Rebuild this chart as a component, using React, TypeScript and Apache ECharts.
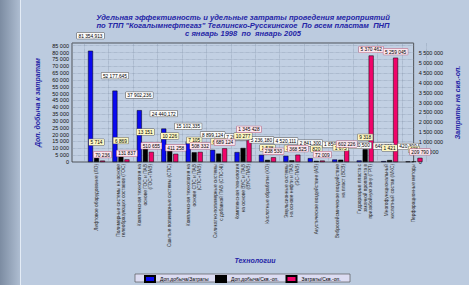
import React, { useEffect, useRef } from 'react';
import * as echarts from 'echarts';

const FONT = '"Liberation Sans", Arial, sans-serif';

const categories = [
  'Лифтовое оборудование (ЛО)',
  'Полимерные системы на основе\nгелеобразующих составов (ГОС)',
  'Комплексная технология на\nоснове ГОС и ПАВ\n(ГОС+ПАВ)',
  'Сшитые полимерные системы (СПС)',
  'Комплексная технология на\nоснове СПС и ПАВ\n(СПС+ПАВ)',
  'Силикатно-полимерные системы\nс добавкой ПАВ (СПС-Ж)',
  'Комплексная технология\nна основе ВУС и ПАВ\n(ВУС+ПАВ)',
  'Кислотные обработки (КО)',
  'Эмульсионные системы\nна основе нефти и ПАВ\n(ЭС-ПАВ)',
  'Акустическое воздействие (АВ)',
  'Вибросейсмическое воздействие\nна пласт (ВСВ)',
  'Гидроразрыв пласта с\nзакачкой проппанта в\nпризабойную зону (ГРП)',
  'Многофункциональный\nкислотный состав (МКС)',
  'Перфорационные методы',
];

const seriesNames = ['Доп.добыча/Затраты', 'Доп.добыча/Скв.-оп.', 'Затраты/Скв.-оп.'];

const blueValues = [81354.913, 52177.645, 37902.236, 24440.172, 15102.335, 8899.124, 7269.575, 5236.18, 4520.111, 2841.3, 1850.2, 1120.5, 640.2, 420.3];
const blackValues = [5714, 6869, 13151, 10226, 7105, 6167, 10277, 1538, 1236, 820, 1675, 9318, 1421, 428];
const pinkValues = [70236, 131837, 510655, 411258, 508332, 689124, 1345428, 238530, 368525, 72009, 602226, 5370462, 5259045, 209790];

const leftMax = 87000;
const leftStep = 5000;
const rightMax = 6000000;
const rightStep = 500000;

const titleLines = [
  'Удельная эффективность и удельные затраты проведения мероприятий',
  'по ТПП "Когалымнефтегаз" Тевлинско-Русскинское  По всем пластам  ПНП',
  'с январь 1998  по  январь 2005',
];
const leftAxisName = 'Доп. добыча к затратам';
const rightAxisName = 'Затраты на скв.-оп.';
const xAxisName = 'Технологии';

const group = (n: number) => String(Math.round(n)).replace(/\B(?=(\d{3})+(?!\d))/g, ' ');
const fmtDec = (v: number) => {
  const [i, d] = v.toFixed(3).split('.');
  return group(Number(i)) + ',' + d;
};

const GRID_LINE = { color: '#8796ab', type: 'dotted' as const, width: 0.6 };

export default function App() {
  const ref = useRef<HTMLDivElement>(null);
  useEffect(() => {
    const chart = echarts.init(ref.current!, null, { renderer: 'svg' });
    const labelBase = {
      show: true,
      position: 'top' as const,
      fontSize: 4.8,
      fontFamily: FONT,
      color: '#000',
      borderWidth: 0.5,
      padding: [1, 1.5, 0, 1.5],
    };
    const legendBase = {
      top: 274,
      itemWidth: 10,
      itemHeight: 6,
      icon: 'rect',
      padding: [1, 0],
      textStyle: { fontSize: 5, fontFamily: FONT, color: '#000' },
      selectedMode: false,
    };
    const checkbox = (x: number) => ({
      type: 'group',
      z: 20,
      children: [
        { type: 'rect', shape: { x, y: 275.5, width: 4, height: 4 }, style: { fill: '#fff', stroke: '#555', lineWidth: 0.5 } },
        { type: 'polyline', shape: { points: [[x + 0.8, 277.5], [x + 1.7, 278.6], [x + 3.3, 276.3]] }, style: { stroke: '#000', lineWidth: 0.6, fill: null } },
      ],
    });
    chart.setOption({
      animation: false,
      backgroundColor: '#bccbdf',
      textStyle: { fontFamily: FONT },
      graphic: [
        {
          type: 'rect', z: -10,
          shape: { x: 0, y: 0, width: 20, height: 285 },
          style: { fill: new echarts.graphic.LinearGradient(0, 0, 1, 0, [
            { offset: 0, color: '#7c8ca2' }, { offset: 1, color: '#aebdd1' }]) },
        },
        { type: 'line', z: -9, shape: { x1: 20.5, y1: 0, x2: 20.5, y2: 285 }, style: { stroke: '#e4ecf6', lineWidth: 1 } },
        {
          type: 'text', x: 243, y: 13,
          style: {
            text: titleLines.join('\n'), align: 'center', verticalAlign: 'top',
            font: 'italic bold 7.6px ' + FONT, fill: '#2424a6', lineHeight: 8,
          },
        },
        {
          type: 'text', x: 255, y: 257,
          style: { text: xAxisName, align: 'center', verticalAlign: 'top', font: 'italic bold 7px ' + FONT, fill: '#2424a6' },
        },
        {
          type: 'rect', z: 1,
          shape: { x: 135, y: 274, width: 215, height: 8 },
          style: { fill: '#dcdcf2', stroke: '#444', lineWidth: 0.6 },
        },
        checkbox(137.7),
        checkbox(207.7),
        checkbox(279),
      ],
      legend: [
        { ...legendBase, left: 144, data: [seriesNames[0]] },
        { ...legendBase, left: 215, data: [seriesNames[1]] },
        { ...legendBase, left: 285.5, data: [seriesNames[2]] },
      ],
      grid: [
        { left: 72, right: 31, top: 43, bottom: 123, show: true, borderColor: '#333', borderWidth: 0.8, backgroundColor: '#c2d0e3' },
        { left: 84.3, right: 42.8, top: 43, bottom: 123 },
      ],
      xAxis: [
        { gridIndex: 0, type: 'value', show: false, min: 0, max: 1 },
        {
          gridIndex: 1, type: 'category', data: categories, boundaryGap: true,
          axisLine: { show: false }, axisTick: { show: false },
          axisLabel: { interval: 0, rotate: 90, fontSize: 4.8, lineHeight: 5.6, margin: 2, color: '#2c2c2c', fontFamily: FONT },
          splitLine: { show: true, lineStyle: GRID_LINE },
        },
      ],
      yAxis: [
        {
          gridIndex: 0, type: 'value', position: 'left', min: 0, max: leftMax, interval: leftStep,
          axisLine: { show: false }, axisTick: { show: false },
          axisLabel: { fontSize: 5.5, color: '#111', margin: 3, showMaxLabel: false, formatter: (v: number) => group(v) },
          splitLine: { show: true, lineStyle: GRID_LINE },
          name: leftAxisName, nameLocation: 'middle', nameGap: 19, nameRotate: 90,
          nameTextStyle: { color: '#2424a6', fontSize: 7, fontWeight: 'bold', fontStyle: 'italic', fontFamily: FONT },
        },
        {
          gridIndex: 0, type: 'value', position: 'right', min: 0, max: rightMax, interval: rightStep,
          axisLine: { show: false }, axisTick: { show: false },
          axisLabel: { fontSize: 5.5, color: '#111', margin: 5, showMaxLabel: false, formatter: (v: number) => group(v) },
          splitLine: { show: false },
          name: rightAxisName, nameLocation: 'middle', nameGap: 30, nameRotate: 90,
          nameTextStyle: { color: '#2424a6', fontSize: 7, fontWeight: 'bold', fontStyle: 'italic', fontFamily: FONT },
        },
        { gridIndex: 1, type: 'value', show: false, min: 0, max: leftMax, interval: leftStep },
        { gridIndex: 1, type: 'value', show: false, min: 0, max: rightMax, interval: rightStep },
      ],
      series: [
        {
          name: seriesNames[0], type: 'bar', xAxisIndex: 1, yAxisIndex: 2, data: blueValues,
          barWidth: 5, barGap: '20%',
          itemStyle: { color: '#0a0af0', borderColor: '#000', borderWidth: 0.5 },
          label: { ...labelBase, distance: 12, backgroundColor: '#fbfbfb', borderColor: '#555', formatter: (p: any) => fmtDec(p.value) },
        },
        {
          name: seriesNames[1], type: 'bar', xAxisIndex: 1, yAxisIndex: 2, data: blackValues,
          barWidth: 5, barGap: '20%',
          itemStyle: { color: '#000000', borderColor: '#000', borderWidth: 0.5 },
          label: { ...labelBase, distance: 9, backgroundColor: '#fdf7c2', borderColor: '#666', formatter: (p: any) => group(p.value) },
        },
        {
          name: seriesNames[2], type: 'bar', xAxisIndex: 1, yAxisIndex: 3, data: pinkValues,
          barWidth: 5, barGap: '20%',
          itemStyle: { color: '#f0046a', borderColor: '#000', borderWidth: 0.5 },
          label: { ...labelBase, distance: 3, backgroundColor: '#fbe6ee', borderColor: '#b0607e', formatter: (p: any) => group(p.value) },
        },
      ],
    });
    return () => chart.dispose();
  }, []);
  return <div ref={ref} style={{ position: 'fixed', left: 0, top: 0, width: 469, height: 285 }} />;
}
